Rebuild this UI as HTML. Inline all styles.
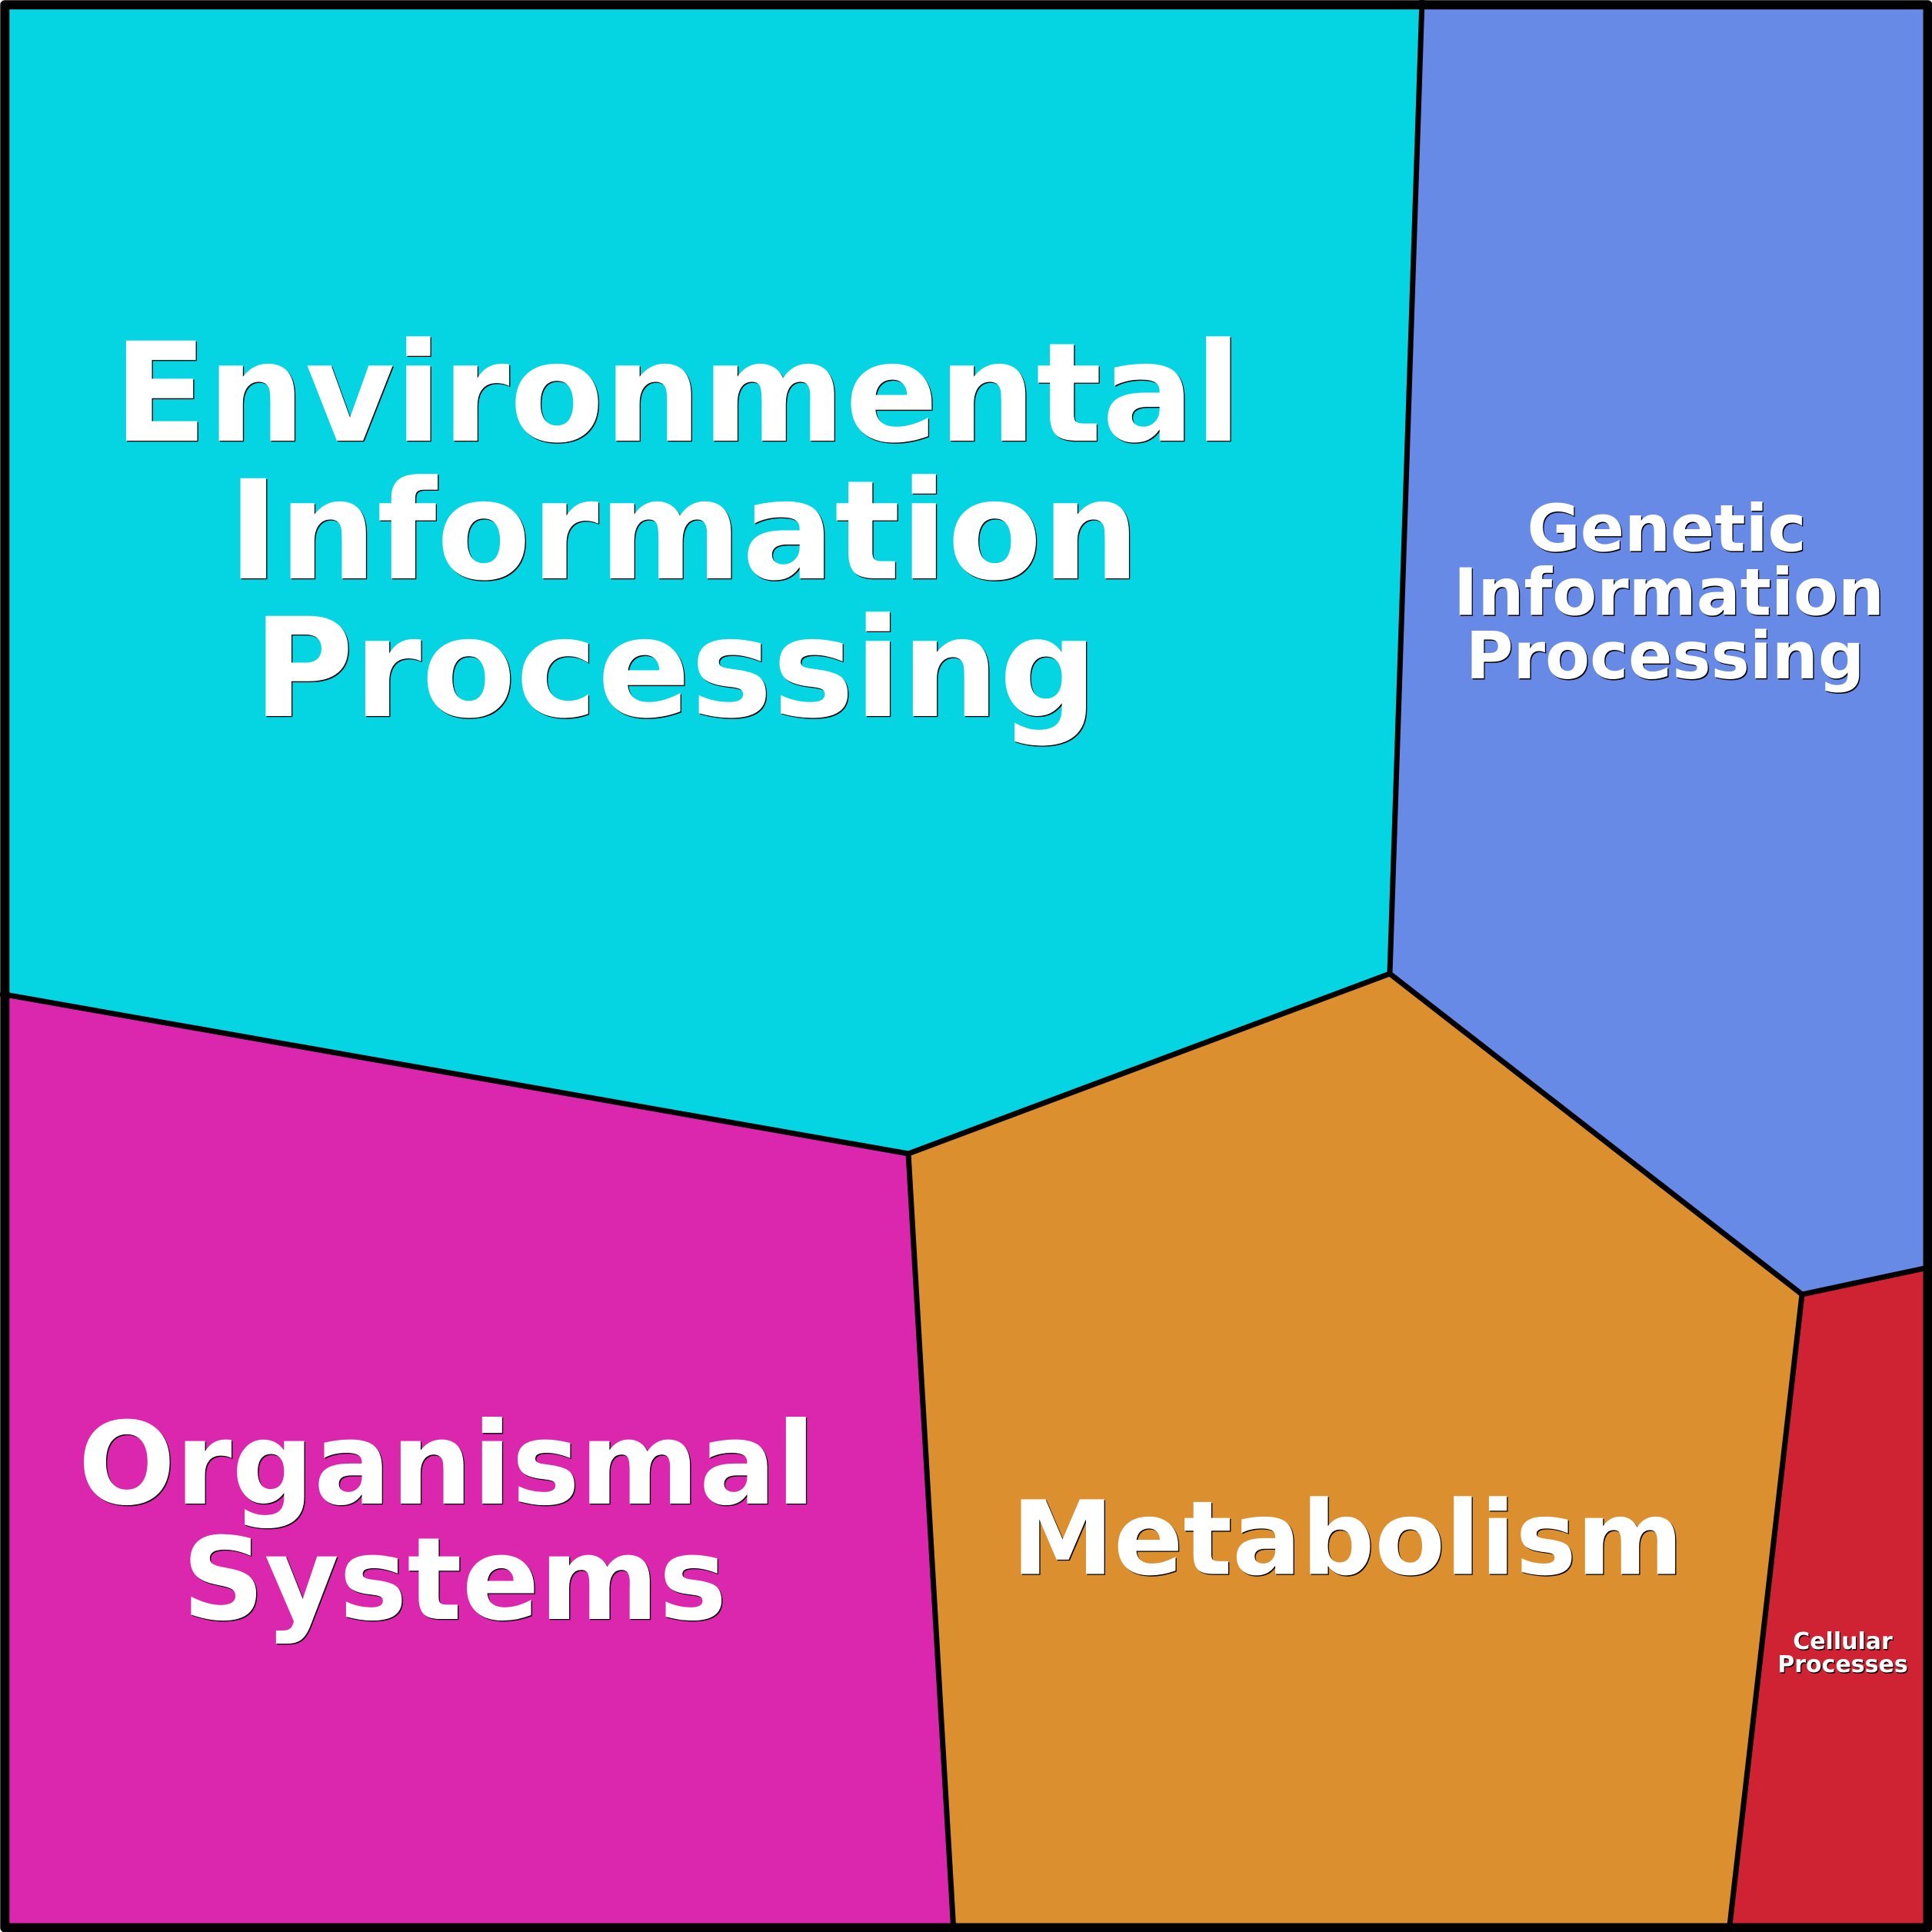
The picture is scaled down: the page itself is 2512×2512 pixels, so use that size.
<!DOCTYPE html>
<html><head><meta charset="utf-8"><style>
html,body{margin:0;padding:0;background:#fff}
svg{display:block}
text{font-family:"DejaVu Sans",sans-serif;font-weight:bold;fill:#fff;text-anchor:middle}
.s text{fill:#000}
</style></head><body>
<svg width="2512" height="2512" viewBox="0 0 2512 2512" xmlns="http://www.w3.org/2000/svg">
<polygon points="6,6 1849,6 1807,1266 1181,1500 6,1293" fill="#05d5e2"/>
<polygon points="1849,6 2506,6 2506,1648 2343,1683 1807,1266" fill="#668ae6"/>
<polygon points="6,1293 1181,1500 1240,2506 6,2506" fill="#db27ae"/>
<polygon points="1181,1500 1807,1266 2343,1683 2248,2506 1240,2506" fill="#db8f2e"/>
<polygon points="2343,1683 2506,1648 2506,2506 2248,2506" fill="#cf2232"/>
<g fill="none" stroke="#000" stroke-width="7" stroke-linejoin="miter">
<polyline points="1849,0 1807,1266 1181,1500 0,1292"/>
<polyline points="1807,1266 2343,1683 2512,1647"/>
<polyline points="1181,1500 1240,2512"/>
<polyline points="2343,1683 2248,2512"/>
</g>
<rect x="6.3" y="6.3" width="2500.2" height="2500.2" fill="none" stroke="#000" stroke-width="12" stroke-linejoin="round"/>
<g class="s" transform="translate(1.3,1.3)">
<text font-size="178.7" x="881" y="573">Environmental</text>
<text font-size="178.7" x="889" y="752">Information</text>
<text font-size="178.7" x="878" y="931">Processing</text>
<text font-size="84.4" x="2167" y="716.5">Genetic</text>
<text font-size="84.4" x="2170" y="799.5">Information</text>
<text font-size="84.4" x="2165" y="882">Processing</text>
<text font-size="148.8" x="581" y="1955">Organismal</text>
<text font-size="148.8" x="591" y="2105">Systems</text>
<text font-size="133.3" x="1752" y="2046.5">Metabolism</text>
<text font-size="30" x="2396" y="2144">Cellular</text>
<text font-size="30" x="2396" y="2174">Processes</text>
</g>
<g>
<text font-size="178.7" x="881" y="573">Environmental</text>
<text font-size="178.7" x="889" y="752">Information</text>
<text font-size="178.7" x="878" y="931">Processing</text>
<text font-size="84.4" x="2167" y="716.5">Genetic</text>
<text font-size="84.4" x="2170" y="799.5">Information</text>
<text font-size="84.4" x="2165" y="882">Processing</text>
<text font-size="148.8" x="581" y="1955">Organismal</text>
<text font-size="148.8" x="591" y="2105">Systems</text>
<text font-size="133.3" x="1752" y="2046.5">Metabolism</text>
<text font-size="30" x="2396" y="2144">Cellular</text>
<text font-size="30" x="2396" y="2174">Processes</text>
</g>
</svg>
</body></html>
